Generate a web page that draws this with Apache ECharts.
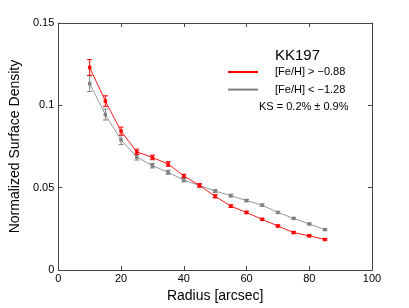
<!DOCTYPE html>
<html>
<head>
<meta charset="utf-8">
<script src="https://cdn.jsdelivr.net/npm/echarts@6/dist/echarts.min.js"></script>
<style>html,body{margin:0;padding:0;background:#fff;}#c{width:409px;height:308px;}</style>
</head>
<body>
<div id="c"></div>
<script>
const radius = [10, 15, 20, 25, 30, 35, 40, 45, 50, 55, 60, 65, 70, 75, 80, 85];
const redValues = [0.123, 0.1026, 0.0844, 0.0718, 0.0684, 0.0644, 0.0572, 0.0514, 0.0448, 0.0388, 0.035, 0.0308, 0.0268, 0.0228, 0.0208, 0.0186];
const redErrors = [0.0048, 0.0032, 0.0024, 0.0016, 0.0014, 0.0014, 0.0010, 0.0010, 0.0010, 0.0008, 0.0007, 0.0006, 0.0006, 0.0005, 0.0005, 0.0004];
const grayValues = [0.1132, 0.0944, 0.079, 0.0686, 0.0634, 0.0594, 0.0546, 0.0514, 0.048, 0.0452, 0.0422, 0.0394, 0.035, 0.0314, 0.028, 0.0246];
const grayErrors = [0.0048, 0.0033, 0.0028, 0.0018, 0.0014, 0.0012, 0.0010, 0.0009, 0.0008, 0.0008, 0.0007, 0.0007, 0.0006, 0.0005, 0.0005, 0.0005];
const xTicks = [0, 20, 40, 60, 80, 100];
const yTicks = [0, 0.05, 0.1, 0.15];
const seriesNames = ['[Fe/H] > \u22120.88', '[Fe/H] < \u22121.28'];
const titleText = 'KK197';
const ksText = 'KS = 0.2% \u00b1 0.9%';

const RED = '#ff1a1a';
const GRAY = '#999999';
const AXIS = '#444444';
const FONT = '"Liberation Sans", Arial, Helvetica, sans-serif';

function pts(vals) { return radius.map((r, i) => [r, vals[i]]); }
function errs(vals, e) { return radius.map((r, i) => [r, vals[i] - e[i], vals[i] + e[i]]); }

function errRender(color) {
  return function (params, api) {
    const x = api.value(0);
    const lo = api.coord([x, api.value(1)]);
    const hi = api.coord([x, api.value(2)]);
    const w = 2.5;
    const style = { stroke: color, lineWidth: 1, fill: null };
    return {
      type: 'group',
      children: [
        { type: 'line', shape: { x1: lo[0], y1: lo[1], x2: hi[0], y2: hi[1] }, style },
        { type: 'line', shape: { x1: lo[0] - w, y1: lo[1], x2: lo[0] + w, y2: lo[1] }, style },
        { type: 'line', shape: { x1: hi[0] - w, y1: hi[1], x2: hi[0] + w, y2: hi[1] }, style }
      ]
    };
  };
}

const chart = echarts.init(document.getElementById('c'), null, { renderer: 'canvas' });

function axisCommon() {
  return {
    axisLine: { show: true, onZero: false, lineStyle: { color: AXIS, width: 1 } },
    axisTick: { show: true, inside: true, length: 4, lineStyle: { color: AXIS } },
    splitLine: { show: false }
  };
}

chart.setOption({
  animation: false,
  backgroundColor: '#ffffff',
  textStyle: { fontFamily: FONT },
  grid: { left: 54, right: 37, top: 23, bottom: 35, containLabel: false },
  title: {
    text: titleText,
    left: 275, top: 48,
    padding: 0,
    textStyle: { fontFamily: FONT, fontSize: 15, fontWeight: 'normal', color: '#000' }
  },
  legend: {
    data: seriesNames,
    orient: 'vertical',
    left: 228, top: 65,
    padding: 0,
    itemGap: 3.6,
    itemWidth: 30,
    itemHeight: 2,
    icon: 'rect',
    textStyle: { fontFamily: FONT, fontSize: 11, color: '#000', lineHeight: 14, padding: [0, 0, 0, 12] }
  },
  graphic: [
    { type: 'text', left: 259, top: 101, style: { text: ksText, font: '11px ' + FONT, fill: '#000' } }
  ],
  xAxis: [
    Object.assign({
      type: 'value', min: 0, max: 100, interval: 20,
      name: 'Radius [arcsec]', nameLocation: 'middle', nameGap: 16,
      nameTextStyle: { fontFamily: FONT, fontSize: 14, color: '#000' },
      axisLabel: { fontFamily: FONT, fontSize: 11, color: '#000', margin: 3 }
    }, axisCommon()),
    Object.assign({
      type: 'value', min: 0, max: 100, interval: 20, position: 'top',
      axisLabel: { show: false }
    }, axisCommon())
  ],
  yAxis: [
    Object.assign({
      type: 'value', min: 0, max: 0.15, interval: 0.05,
      name: 'Normalized Surface Density', nameLocation: 'middle', nameGap: 27,
      nameTextStyle: { fontFamily: FONT, fontSize: 14, color: '#000' },
      axisLabel: { fontFamily: FONT, fontSize: 11, color: '#000', margin: 4,
        formatter: v => (yTicks.indexOf(+v.toFixed(2)) >= 0 ? String(+v.toFixed(2)) : '') }
    }, axisCommon()),
    Object.assign({
      type: 'value', min: 0, max: 0.15, interval: 0.05, position: 'right',
      axisLabel: { show: false }
    }, axisCommon())
  ],
  series: [
    {
      name: seriesNames[1], type: 'line', data: pts(grayValues),
      color: GRAY, lineStyle: { color: GRAY, width: 1 },
      symbol: 'rect', symbolSize: 3.5, itemStyle: { color: '#808080' }, z: 3
    },
    {
      type: 'custom', data: errs(grayValues, grayErrors),
      renderItem: errRender('#808080'), encode: { x: 0, y: [1, 2] }, z: 3, silent: true
    },
    {
      name: seriesNames[0], type: 'line', data: pts(redValues),
      color: RED, lineStyle: { color: RED, width: 1 },
      symbol: 'rect', symbolSize: 3.5, itemStyle: { color: '#ff0000' }, z: 4
    },
    {
      type: 'custom', data: errs(redValues, redErrors),
      renderItem: errRender('#ff0000'), encode: { x: 0, y: [1, 2] }, z: 4, silent: true
    }
  ]
});
</script>
</body>
</html>
